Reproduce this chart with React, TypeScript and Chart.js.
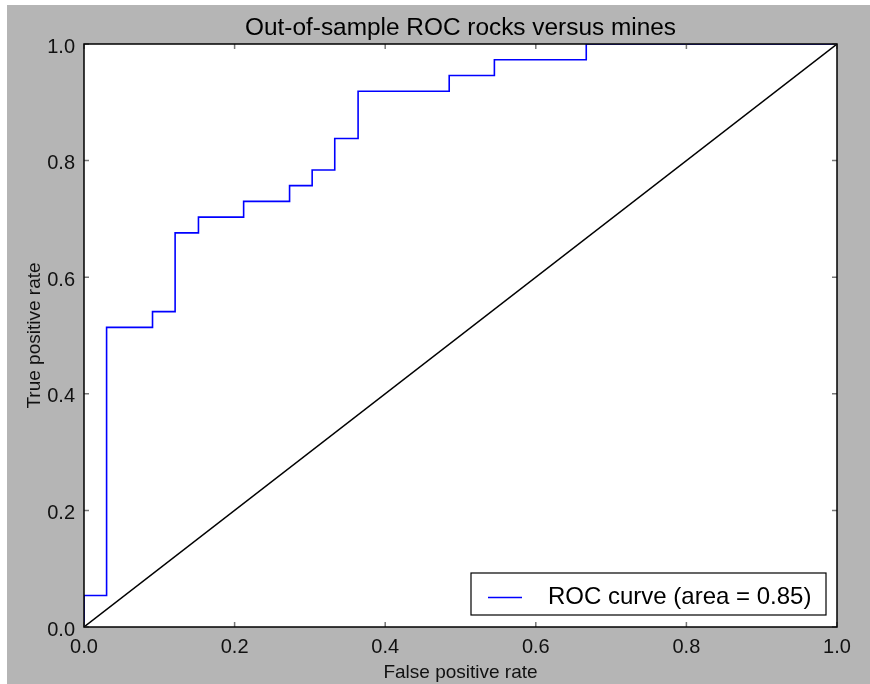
import React, { useEffect, useRef } from "react";
import { Chart, registerables } from "chart.js";

Chart.register(...registerables);

const TITLE = "Out-of-sample ROC rocks versus mines";
const X_LABEL = "False positive rate";
const Y_LABEL = "True positive rate";
const ROC_LABEL = "ROC curve (area = 0.85)";

// ROC curve corners (false positive rate, true positive rate)
const fpr = [0, 0, 0.03, 0.091, 0.121, 0.152, 0.212, 0.273, 0.303, 0.333, 0.364, 0.485, 0.545, 0.667, 1.0];
const tpr = [0, 0.054, 0.514, 0.541, 0.676, 0.703, 0.73, 0.757, 0.784, 0.838, 0.919, 0.946, 0.973, 1.0, 1.0];

// chance diagonal
const diagX = [0, 1];
const diagY = [0, 1];

const tickValues = [0, 0.2, 0.4, 0.6, 0.8, 1.0];

const FONT = "'Liberation Sans', Arial, Helvetica, sans-serif";
const BG = "#b5b5b5";

const areaPlugin = {
  id: "plotArea",
  beforeDatasetsDraw(chart: any) {
    const { ctx, chartArea } = chart;
    const { left, right, top, bottom } = chartArea;
    ctx.save();
    ctx.fillStyle = "#ffffff";
    ctx.fillRect(left, top, right - left, bottom - top);
    ctx.restore();
  },
};

const framePlugin = {
  id: "frameTicks",
  afterDatasetsDraw(chart: any) {
    const { ctx, chartArea, scales } = chart;
    const { left, right, top, bottom } = chartArea;
    ctx.save();
    // inward ticks
    ctx.strokeStyle = "#777777";
    ctx.lineWidth = 1.5;
    const len = 5;
    tickValues.forEach((v) => {
      const x = scales.x.getPixelForValue(v);
      const y = scales.y.getPixelForValue(v);
      ctx.beginPath();
      ctx.moveTo(x, bottom);
      ctx.lineTo(x, bottom - len);
      ctx.moveTo(x, top);
      ctx.lineTo(x, top + len);
      ctx.moveTo(left, y);
      ctx.lineTo(left + len, y);
      ctx.moveTo(right, y);
      ctx.lineTo(right - len, y);
      ctx.stroke();
    });
    // frame
    ctx.strokeStyle = "#000000";
    ctx.lineWidth = 1.5;
    ctx.strokeRect(left, top, right - left, bottom - top);
    // title centred over the plot area
    ctx.fillStyle = "#000000";
    ctx.font = `24.4px ${FONT}`;
    ctx.textAlign = "center";
    ctx.textBaseline = "middle";
    ctx.fillText(TITLE, (left + right) / 2, 23);
    ctx.restore();
  },
};

const legendPlugin = {
  id: "insideLegend",
  afterDraw(chart: any) {
    const { ctx, chartArea } = chart;
    const ds = chart.data.datasets[0];
    const w = 355;
    const h = 42;
    const x0 = chartArea.right - 11 - w;
    const y0 = chartArea.bottom - 12 - h;
    ctx.save();
    ctx.fillStyle = "#ffffff";
    ctx.fillRect(x0, y0, w, h);
    ctx.strokeStyle = "#000000";
    ctx.lineWidth = 1.2;
    ctx.strokeRect(x0, y0, w, h);
    const cy = y0 + 24.5;
    ctx.strokeStyle = ds.borderColor;
    ctx.lineWidth = 1.5;
    ctx.beginPath();
    ctx.moveTo(x0 + 17, cy);
    ctx.lineTo(x0 + 51, cy);
    ctx.stroke();
    ctx.fillStyle = "#000000";
    ctx.font = `24px ${FONT}`;
    ctx.textBaseline = "middle";
    ctx.textAlign = "left";
    ctx.fillText(ds.label, x0 + 77, cy);
    ctx.restore();
  },
};

export default function App() {
  const canvasRef = useRef<HTMLCanvasElement>(null);

  useEffect(() => {
    const canvas = canvasRef.current;
    if (!canvas) return;
    const chart = new Chart(canvas, {
      type: "scatter",
      data: {
        datasets: [
          {
            label: ROC_LABEL,
            data: fpr.map((x, i) => ({ x, y: tpr[i] })),
            showLine: true,
            stepped: "before",
            borderColor: "#0000ff",
            borderWidth: 1.6,
            pointRadius: 0,
            fill: false,
          },
          {
            label: "chance",
            data: diagX.map((x, i) => ({ x, y: diagY[i] })),
            showLine: true,
            borderColor: "#000000",
            borderWidth: 1.4,
            pointRadius: 0,
            fill: false,
          },
        ],
      },
      options: {
        animation: false,
        responsive: false,
        events: [],
        layout: { padding: { left: 0, right: 33, top: 39, bottom: 0 } },
        plugins: {
          legend: { display: false },
          tooltip: { enabled: false },
          title: { display: false },
        },
        scales: {
          x: {
            type: "linear",
            min: 0,
            max: 1,
            afterFit: (scale: any) => {
              scale.height = 57;
            },
            afterBuildTicks: (scale: any) => {
              scale.ticks = tickValues.map((v) => ({ value: v }));
            },
            grid: { display: false, drawTicks: false },
            border: { display: false },
            ticks: {
              color: "#111111",
              padding: 8,
              maxRotation: 0,
              font: { family: FONT, size: 20 },
              callback: (v: any) => Number(v).toFixed(1),
            },
            title: {
              display: true,
              text: X_LABEL,
              color: "#111111",
              font: { family: FONT, size: 19 },
              padding: { top: 0, bottom: 0 },
            },
          },
          y: {
            type: "linear",
            min: 0,
            max: 1,
            afterFit: (scale: any) => {
              scale.width = 77;
            },
            afterBuildTicks: (scale: any) => {
              scale.ticks = tickValues.map((v) => ({ value: v }));
            },
            grid: { display: false, drawTicks: false },
            border: { display: false },
            ticks: {
              color: "#111111",
              padding: 9,
              labelOffset: 3,
              font: { family: FONT, size: 20 },
              callback: (v: any) => Number(v).toFixed(1),
            },
            title: {
              display: true,
              text: Y_LABEL,
              color: "#111111",
              font: { family: FONT, size: 19 },
              padding: { top: 16, bottom: 0 },
            },
          },
        },
      },
      plugins: [areaPlugin, framePlugin, legendPlugin],
    });
    return () => chart.destroy();
  }, []);

  return (
    <div
      style={{
        position: "absolute",
        left: 7,
        top: 5,
        width: 863,
        height: 679,
        background: BG,
      }}
    >
      <canvas ref={canvasRef} width={863} height={679} style={{ display: "block" }} />
    </div>
  );
}
